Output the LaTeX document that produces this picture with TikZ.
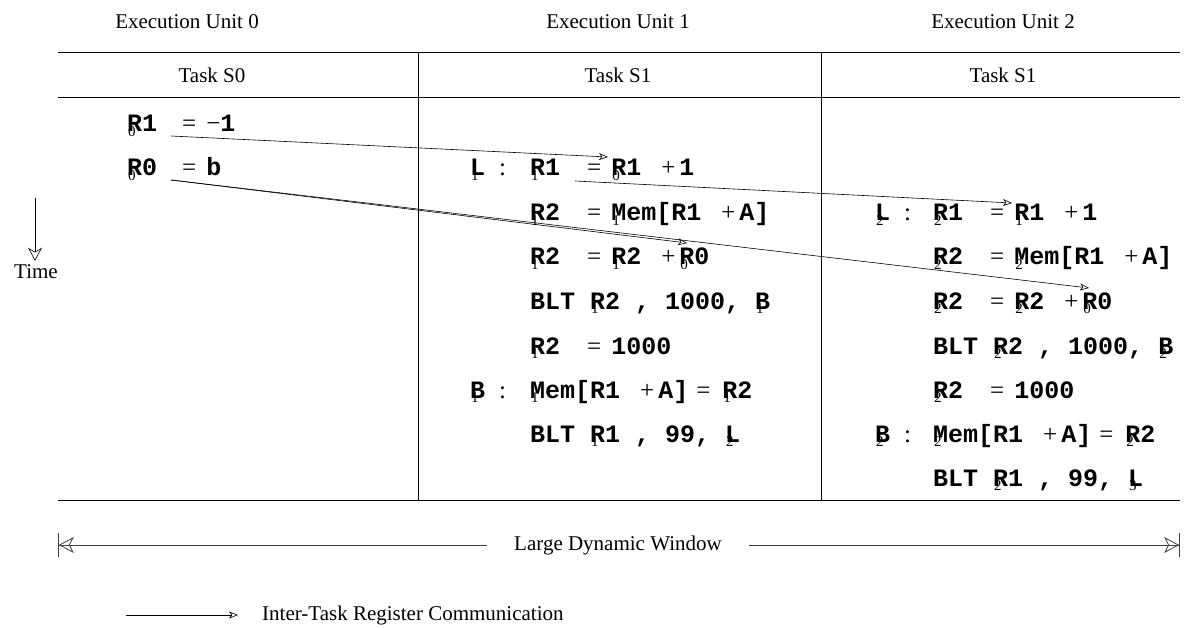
\documentclass[tikz,border=0pt]{standalone}
\usepackage{fontspec}
\setmainfont{Liberation Serif}
\setmonofont{Liberation Mono}
\usetikzlibrary{arrows.meta}

\newcommand\codefont{\fontsize{25}{30}\selectfont\ttfamily\bfseries}
\newcommand\opfont{\fontsize{25}{30}\selectfont\rmfamily\mdseries}
\newcommand\subfont{\fontsize{15}{17}\selectfont\rmfamily\mdseries}
% letter with its unit number printed under it
\newcommand\rs[2]{\rlap{\raisebox{-4.5pt}{\kern1pt\subfont #2}}#1}
\newcommand\eq{\hspace{27pt}{\opfont =}\hspace{10pt}}
\newcommand\pl{\hspace{20pt}{\opfont +}\hspace{4pt}}
\newcommand\lc{\hspace{14pt}{\opfont :}}

\begin{document}
\begin{tikzpicture}[x=1pt, y=-1pt,
    every node/.style={inner sep=0pt},
    hdr/.style={font=\fontsize{21}{25}\selectfont},
    code/.style={anchor=base west, font=\codefont},
    rule/.style={line width=0.9pt},
    comm/.style={line width=0.6pt, -{Stealth[open, length=9pt, width=7pt, inset=2.5pt]}},
    window/.style={line width=0.8pt, black!75, -{Stealth[open, length=15pt, width=16pt, inset=4pt]Bar[width=24pt]}}]

    \useasboundingbox (0,0) rectangle (1196,628);

    % headers
    \node[hdr] (eu0) at (187,22) {Execution Unit 0};
    \node[hdr] (eu1) at (618,22) {Execution Unit 1};
    \node[hdr] (eu2) at (1003,22) {Execution Unit 2};
    \node[hdr] (ts0) at (212,75) {Task S0};
    \node[hdr] (ts1) at (618,75) {Task S1};
    \node[hdr] (ts2) at (1003,75) {Task S1};

    % table
    \draw[rule] (58,52) -- (1180,52);
    \draw[rule] (58,97) -- (1180,97);
    \draw[rule] (58,500) -- (1180,500);
    \draw[rule] (418,52) -- (418,500);
    \draw[rule] (821,52) -- (821,500);

    % unit 0
    \node[code] (u0r0) at (127,132) {\rs{R}{0}1\hspace{25pt}{\opfont =}\hspace{10pt}{\opfont −}1};
    \node[code] (u0r1) at (127,176) {\rs{R}{0}0\hspace{25pt}{\opfont =}\hspace{10pt}b};

    % unit 1
    \node[code] (u1l1) at (470,176) {\rs{L}{1}\lc};
    \node[code] (u1r1) at (530,176) {\rs{R}{1}1\eq\rs{R}{0}1\pl 1};
    \node[code] (u1r2) at (530,221) {\rs{R}{1}2\eq\rs{M}{1}em[R1\pl A]};
    \node[code] (u1r3) at (530,265) {\rs{R}{1}2\eq\rs{R}{1}2\pl\rs{R}{0}0};
    \node[code] (u1r4) at (530,309) {BLT \rs{R}{1}2 , 1000, \rs{B}{1}};
    \node[code] (u1r5) at (530,354) {\rs{R}{1}2\eq 1000};
    \node[code] (u1l6) at (470,398) {\rs{B}{1}\lc};
    \node[code] (u1r6) at (530,398) {\rs{M}{1}em[R1\pl A]\hspace{8pt}{\opfont =}\hspace{12pt}\rs{R}{1}2};
    \node[code] (u1r7) at (530,442) {BLT \rs{R}{1}1 , 99, \rs{L}{2}};

    % unit 2
    \node[code] (u2l2) at (875,221) {\rs{L}{2}\lc};
    \node[code] (u2r2) at (933,221) {\rs{R}{2}1\eq\rs{R}{1}1\pl 1};
    \node[code] (u2r3) at (933,265) {\rs{R}{2}2\eq\rs{M}{2}em[R1\pl A]};
    \node[code] (u2r4) at (933,309) {\rs{R}{2}2\eq\rs{R}{2}2\pl\rs{R}{0}0};
    \node[code] (u2r5) at (933,354) {BLT \rs{R}{2}2 , 1000, \rs{B}{2}};
    \node[code] (u2r6) at (933,398) {\rs{R}{2}2\eq 1000};
    \node[code] (u2l7) at (875,442) {\rs{B}{2}\lc};
    \node[code] (u2r7) at (933,442) {\rs{M}{2}em[R1\pl A]\hspace{8pt}{\opfont =}\hspace{12pt}\rs{R}{2}2};
    \node[code] (u2r8) at (933,486) {BLT \rs{R}{2}1 , 99, \rs{L}{3}};

    % register communication
    \coordinate (r1s) at (171,136);
    \coordinate (r0s) at (171,180);
    \coordinate (r11s) at (575,181);
    \coordinate (r1t) at (608,157);
    \coordinate (r0t1) at (687,243);
    \coordinate (r0t2) at (1089,288);
    \coordinate (r11t) at (1012,203);
    \draw[comm] (r1s) -- (r1t);
    \draw[comm] (r0s) -- (r0t1);
    \draw[comm] (r0s) -- (r0t2);
    \draw[comm] (r11s) -- (r11t);

    % time
    \node[hdr] (time) at (36,272) {Time};
    \coordinate (ttop) at (35,198);
    \draw[line width=0.6pt, -{Stealth[open, length=13pt, width=14pt, inset=4pt]}, shorten >=4pt] (ttop) -- (ttop |- time.north);

    % window
    \node[hdr, inner xsep=27pt] (ldw) at (618,545) {Large Dynamic Window};
    \coordinate (wl) at (58,545);
    \coordinate (wr) at (1180,545);
    \draw[window] (ldw.west) -- (wl);
    \draw[window] (ldw.east) -- (wr);

    % legend
    \node[hdr, anchor=west] (legend) at (262,615) {Inter-Task Register Communication};
    \coordinate (lg) at (126,615);
    \draw[comm] (lg) -- ([xshift=-24pt]legend.west);
\end{tikzpicture}
\end{document}
